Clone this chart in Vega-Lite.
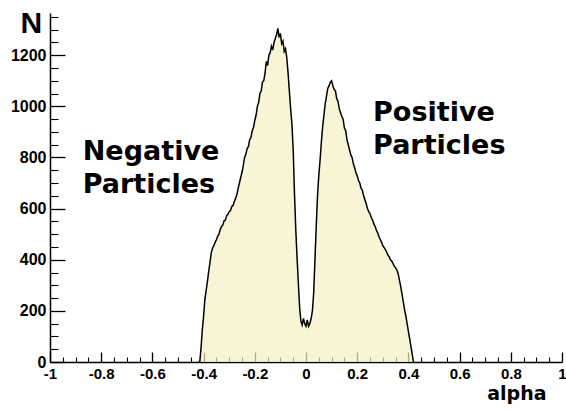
{
  "$schema": "https://vega.github.io/schema/vega-lite/v6.json",
  "autosize": {"type": "none"},
  "width": 512,
  "height": 349,
  "padding": {"left": 50, "top": 13, "right": 4, "bottom": 48},
  "background": "white",
  "config": {"view": {"stroke": null}},
  "resolve": {"axis": {"x": "independent", "y": "independent"}},
  "layer": [
    {
      "data": {"values": [
        {"a": -0.42, "n": 0}, {"a": -0.415, "n": 0}, {"a": -0.41, "n": 55}, {"a": -0.405, "n": 125}, {"a": -0.4, "n": 180},
        {"a": -0.395, "n": 245}, {"a": -0.39, "n": 280}, {"a": -0.385, "n": 315}, {"a": -0.38, "n": 355}, {"a": -0.375, "n": 390},
        {"a": -0.37, "n": 428}, {"a": -0.365, "n": 445}, {"a": -0.36, "n": 455}, {"a": -0.355, "n": 468}, {"a": -0.35, "n": 478},
        {"a": -0.345, "n": 492}, {"a": -0.34, "n": 500}, {"a": -0.335, "n": 518}, {"a": -0.33, "n": 530}, {"a": -0.325, "n": 535},
        {"a": -0.32, "n": 552}, {"a": -0.315, "n": 555}, {"a": -0.31, "n": 572}, {"a": -0.305, "n": 578}, {"a": -0.3, "n": 588},
        {"a": -0.295, "n": 592}, {"a": -0.29, "n": 608}, {"a": -0.285, "n": 612}, {"a": -0.28, "n": 628}, {"a": -0.275, "n": 640},
        {"a": -0.27, "n": 655}, {"a": -0.265, "n": 680}, {"a": -0.26, "n": 700}, {"a": -0.255, "n": 722}, {"a": -0.25, "n": 742},
        {"a": -0.245, "n": 768}, {"a": -0.24, "n": 800}, {"a": -0.235, "n": 812}, {"a": -0.23, "n": 835}, {"a": -0.225, "n": 842},
        {"a": -0.22, "n": 870}, {"a": -0.215, "n": 878}, {"a": -0.21, "n": 905}, {"a": -0.205, "n": 918}, {"a": -0.2, "n": 945},
        {"a": -0.195, "n": 965}, {"a": -0.19, "n": 1000}, {"a": -0.185, "n": 1015}, {"a": -0.18, "n": 1050}, {"a": -0.175, "n": 1060},
        {"a": -0.17, "n": 1095}, {"a": -0.165, "n": 1100}, {"a": -0.16, "n": 1130}, {"a": -0.155, "n": 1175}, {"a": -0.15, "n": 1160},
        {"a": -0.145, "n": 1200}, {"a": -0.14, "n": 1210}, {"a": -0.135, "n": 1235}, {"a": -0.13, "n": 1220}, {"a": -0.125, "n": 1250},
        {"a": -0.12, "n": 1265}, {"a": -0.115, "n": 1280}, {"a": -0.11, "n": 1305}, {"a": -0.105, "n": 1270}, {"a": -0.1, "n": 1285},
        {"a": -0.095, "n": 1245}, {"a": -0.09, "n": 1255}, {"a": -0.085, "n": 1215}, {"a": -0.08, "n": 1225}, {"a": -0.075, "n": 1190},
        {"a": -0.07, "n": 1130}, {"a": -0.065, "n": 1060}, {"a": -0.06, "n": 990}, {"a": -0.055, "n": 930}, {"a": -0.05, "n": 830},
        {"a": -0.045, "n": 660}, {"a": -0.04, "n": 520}, {"a": -0.035, "n": 410}, {"a": -0.03, "n": 310}, {"a": -0.025, "n": 215},
        {"a": -0.02, "n": 160}, {"a": -0.015, "n": 145}, {"a": -0.01, "n": 170}, {"a": -0.005, "n": 150}, {"a": 0, "n": 140},
        {"a": 0.005, "n": 165}, {"a": 0.01, "n": 140}, {"a": 0.015, "n": 150}, {"a": 0.02, "n": 170}, {"a": 0.025, "n": 200},
        {"a": 0.03, "n": 270}, {"a": 0.035, "n": 400}, {"a": 0.04, "n": 530}, {"a": 0.045, "n": 650}, {"a": 0.05, "n": 730},
        {"a": 0.055, "n": 790}, {"a": 0.06, "n": 860}, {"a": 0.065, "n": 920}, {"a": 0.07, "n": 965}, {"a": 0.075, "n": 1010},
        {"a": 0.08, "n": 1040}, {"a": 0.085, "n": 1070}, {"a": 0.09, "n": 1080}, {"a": 0.095, "n": 1095}, {"a": 0.1, "n": 1100},
        {"a": 0.105, "n": 1080}, {"a": 0.11, "n": 1065}, {"a": 0.115, "n": 1060}, {"a": 0.12, "n": 1030}, {"a": 0.125, "n": 1020},
        {"a": 0.13, "n": 990}, {"a": 0.135, "n": 975}, {"a": 0.14, "n": 960}, {"a": 0.145, "n": 950}, {"a": 0.15, "n": 915},
        {"a": 0.155, "n": 905}, {"a": 0.16, "n": 870}, {"a": 0.165, "n": 850}, {"a": 0.17, "n": 830}, {"a": 0.175, "n": 810},
        {"a": 0.18, "n": 800}, {"a": 0.185, "n": 775}, {"a": 0.19, "n": 760}, {"a": 0.195, "n": 740}, {"a": 0.2, "n": 728},
        {"a": 0.205, "n": 710}, {"a": 0.21, "n": 700}, {"a": 0.215, "n": 680}, {"a": 0.22, "n": 672}, {"a": 0.225, "n": 650},
        {"a": 0.23, "n": 635}, {"a": 0.235, "n": 620}, {"a": 0.24, "n": 600}, {"a": 0.245, "n": 588}, {"a": 0.25, "n": 580},
        {"a": 0.255, "n": 565}, {"a": 0.26, "n": 555}, {"a": 0.265, "n": 540}, {"a": 0.27, "n": 530}, {"a": 0.275, "n": 515},
        {"a": 0.28, "n": 505}, {"a": 0.285, "n": 490}, {"a": 0.29, "n": 480}, {"a": 0.295, "n": 468}, {"a": 0.3, "n": 455},
        {"a": 0.305, "n": 448}, {"a": 0.31, "n": 440}, {"a": 0.315, "n": 430}, {"a": 0.32, "n": 418}, {"a": 0.325, "n": 412},
        {"a": 0.33, "n": 400}, {"a": 0.335, "n": 395}, {"a": 0.34, "n": 385}, {"a": 0.345, "n": 375}, {"a": 0.35, "n": 368},
        {"a": 0.355, "n": 360}, {"a": 0.36, "n": 345}, {"a": 0.365, "n": 320}, {"a": 0.37, "n": 295}, {"a": 0.375, "n": 265},
        {"a": 0.38, "n": 235}, {"a": 0.385, "n": 205}, {"a": 0.39, "n": 180}, {"a": 0.395, "n": 150}, {"a": 0.4, "n": 120},
        {"a": 0.405, "n": 90}, {"a": 0.41, "n": 60}, {"a": 0.415, "n": 30}, {"a": 0.42, "n": 0}
      ]},
      "mark": {"type": "area", "color": "#f5f1c4", "interpolate": "linear", "line": {"color": "black", "strokeWidth": 1.5}},
      "encoding": {
        "x": {
          "field": "a", "type": "quantitative",
          "scale": {"domain": [-1, 1], "nice": false, "zero": false},
          "axis": {
            "orient": "bottom",
            "values": [-1, -0.8, -0.6, -0.4, -0.2, 0, 0.2, 0.4, 0.6, 0.8, 1],
            "grid": false,
            "domainColor": "black", "domainWidth": 1.5,
            "tickColor": "black", "tickWidth": 1.3, "tickSize": -10,
            "labelExpr": "'' + datum.value",
            "labelFont": "Liberation Sans", "labelFontWeight": "bold", "labelFontSize": 15, "labelColor": "black",
            "labelPadding": 14, "labelFlush": false, "labelOverlap": false,
            "title": "alpha",
            "titleFont": "DejaVu Sans", "titleFontWeight": "bold", "titleFontSize": 19, "titleColor": "black",
            "titleAnchor": null, "titleAlign": "right", "titleBaseline": "alphabetic", "titleX": 496, "titleY": 37
          }
        },
        "y": {
          "field": "n", "type": "quantitative",
          "scale": {"domain": [0, 1365], "nice": false},
          "axis": {
            "orient": "left",
            "values": [0, 200, 400, 600, 800, 1000, 1200],
            "grid": false,
            "domainColor": "black", "domainWidth": 1.5,
            "tickColor": "black", "tickWidth": 1.3, "tickSize": -15,
            "labelExpr": "'' + datum.value",
            "labelFont": "Liberation Sans", "labelFontWeight": "bold", "labelFontSize": 16, "labelColor": "black",
            "labelPadding": 19, "labelFlush": false, "labelOverlap": false,
            "title": "N",
            "titleFont": "Liberation Sans", "titleFontWeight": "bold", "titleFontSize": 30, "titleColor": "black",
            "titleAngle": 0, "titleAnchor": null, "titleAlign": "left", "titleBaseline": "alphabetic", "titleX": -30, "titleY": 19
          }
        }
      }
    },
    {
      "data": {"values": [
        {"a": -0.872, "n": 790, "label": "Negative\nParticles"},
        {"a": 0.262, "n": 942, "label": "Positive\nParticles"}
      ]},
      "mark": {"type": "text", "align": "left", "baseline": "alphabetic", "font": "DejaVu Sans", "fontWeight": "bold", "fontSize": 27, "lineBreak": "\n", "lineHeight": 33, "color": "black"},
      "encoding": {
        "x": {
          "field": "a", "type": "quantitative",
          "axis": {
            "orient": "bottom",
            "values": [-0.95, -0.9, -0.85, -0.75, -0.7, -0.65, -0.55, -0.5, -0.45, -0.35, -0.3, -0.25, -0.15, -0.1, -0.05, 0.05, 0.1, 0.15, 0.25, 0.3, 0.35, 0.45, 0.5, 0.55, 0.65, 0.7, 0.75, 0.85, 0.9, 0.95],
            "grid": false, "domain": false, "labels": false, "title": null,
            "tickColor": "black", "tickWidth": 1.1, "tickSize": -5
          }
        },
        "y": {
          "field": "n", "type": "quantitative",
          "axis": {
            "orient": "left",
            "values": [50, 100, 150, 250, 300, 350, 450, 500, 550, 650, 700, 750, 850, 900, 950, 1050, 1100, 1150, 1250, 1300, 1350],
            "grid": false, "domain": false, "labels": false, "title": null,
            "tickColor": "black", "tickWidth": 1.1, "tickSize": -8
          }
        },
        "text": {"field": "label"}
      }
    }
  ]
}
